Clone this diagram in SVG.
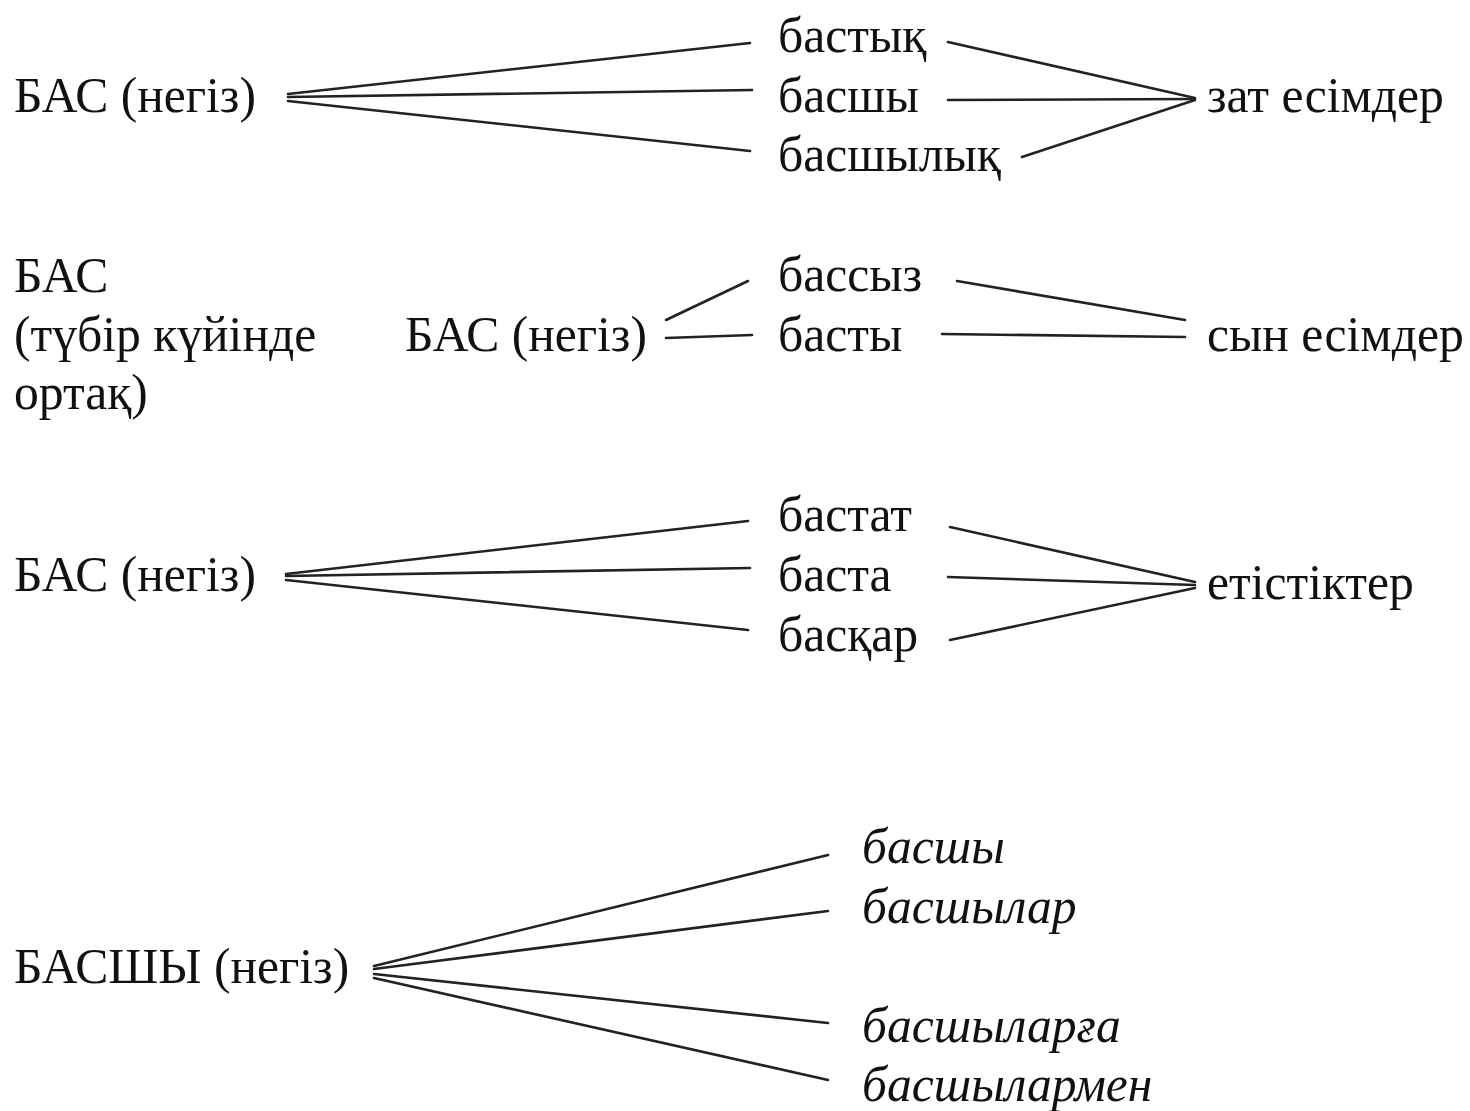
<svg xmlns="http://www.w3.org/2000/svg" width="1470" height="1111" viewBox="0 0 1470 1111">
<style>
text{font-family:"Liberation Serif","Times New Roman",serif;font-size:49.6px;fill:#111}
.it{font-style:italic}
#connectors line{stroke:#222;stroke-width:2.6;stroke-linecap:round}
</style>
<rect width="1470" height="1111" fill="#fff"/>
<g id="connectors">
<line x1="288" y1="94" x2="750" y2="43"/>
<line x1="288" y1="97" x2="752" y2="90"/>
<line x1="288" y1="101" x2="750" y2="151"/>
<line x1="948" y1="42" x2="1195" y2="98"/>
<line x1="948" y1="100" x2="1195" y2="99"/>
<line x1="1022" y1="157" x2="1195" y2="100"/>
<line x1="666" y1="320" x2="748" y2="281"/>
<line x1="666" y1="338" x2="752" y2="335"/>
<line x1="957" y1="281" x2="1185" y2="320"/>
<line x1="942" y1="334" x2="1185" y2="337"/>
<line x1="286" y1="574" x2="748" y2="521"/>
<line x1="286" y1="576" x2="750" y2="568"/>
<line x1="286" y1="580" x2="748" y2="630"/>
<line x1="950" y1="527" x2="1195" y2="582"/>
<line x1="948" y1="577" x2="1195" y2="585"/>
<line x1="950" y1="640" x2="1195" y2="588"/>
<line x1="374" y1="966" x2="828" y2="855"/>
<line x1="374" y1="969" x2="828" y2="911"/>
<line x1="374" y1="974" x2="828" y2="1023"/>
<line x1="374" y1="978" x2="828" y2="1080"/>
</g>
<g id="n1-root"><text x="14" y="112">БАС (негіз)</text></g>
<g id="n1-a"><text x="778" y="52">бастық</text></g>
<g id="n1-b"><text x="778" y="112">басшы</text></g>
<g id="n1-c"><text x="778" y="171">басшылық</text></g>
<g id="n1-target"><text x="1207" y="112">зат есімдер</text></g>
<g id="n2-common"><text x="14" y="292">БАС</text><text x="14" y="351">(түбір күйінде</text><text x="14" y="409">ортақ)</text></g>
<g id="n2-root"><text x="405" y="351">БАС (негіз)</text></g>
<g id="n2-a"><text x="778" y="291">бассыз</text></g>
<g id="n2-b"><text x="778" y="351">басты</text></g>
<g id="n2-target"><text x="1207" y="351">сын есімдер</text></g>
<g id="n3-root"><text x="14" y="591">БАС (негіз)</text></g>
<g id="n3-a"><text x="778" y="531">бастат</text></g>
<g id="n3-b"><text x="778" y="591">баста</text></g>
<g id="n3-c"><text x="778" y="651">басқар</text></g>
<g id="n3-target"><text x="1207" y="599">етістіктер</text></g>
<g id="n4-root"><text x="14" y="983">БАСШЫ (негіз)</text></g>
<g id="n4-a"><text class="it" x="862" y="863">басшы</text></g>
<g id="n4-b"><text class="it" x="862" y="923">басшылар</text></g>
<g id="n4-c"><text class="it" x="862" y="1042">басшыларға</text></g>
<g id="n4-d"><text class="it" x="862" y="1101">басшылармен</text></g>
</svg>
